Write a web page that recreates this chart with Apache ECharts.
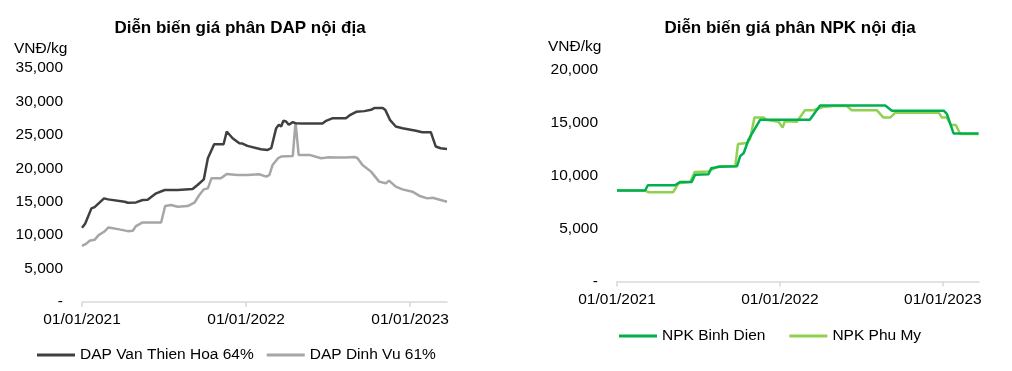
<!DOCTYPE html>
<html>
<head>
<meta charset="utf-8">
<script src="https://cdn.jsdelivr.net/npm/echarts@6/dist/echarts.min.js"></script>
<style>
html,body{margin:0;padding:0;background:#fff;}
#c{width:1012px;height:371px;}
</style>
</head>
<body>
<div id="c"></div>
<script>
// ---- DATA ----
const xTickLabels = ['01/01/2021', '01/01/2022', '01/01/2023'];
const xTickDates = ['2021-01-01', '2022-01-01', '2023-01-01'];

const vthDates = ['2021-01-01','2021-01-08','2021-01-22','2021-01-29','2021-02-19','2021-02-28','2021-04-06','2021-04-13','2021-05-01','2021-05-16','2021-05-27','2021-06-15','2021-07-04','2021-08-02','2021-09-04','2021-09-15','2021-09-29','2021-10-08','2021-10-22','2021-11-12','2021-11-19','2021-12-02','2021-12-17','2021-12-24','2022-01-04','2022-02-03','2022-02-18','2022-02-26','2022-03-09','2022-03-15','2022-03-20','2022-03-25','2022-03-31','2022-04-06','2022-04-15','2022-04-21','2022-05-07','2022-06-20','2022-06-28','2022-07-13','2022-08-11','2022-08-19','2022-09-03','2022-09-21','2022-10-06','2022-10-13','2022-11-01','2022-11-07','2022-11-17','2022-11-30','2022-12-15','2023-01-14','2023-01-28','2023-02-16','2023-02-27','2023-03-10','2023-03-24'];
const vthValues = [11100,11700,14000,14200,15500,15350,15000,14850,14900,15250,15300,16250,16750,16750,16900,17500,18350,21500,23600,23600,25500,24500,23750,23700,23350,22850,22750,23000,26000,26500,26250,27100,27000,26500,26900,26750,26700,26700,27100,27500,27500,27900,28450,28550,28750,29000,29000,28700,27250,26250,26000,25600,25400,25400,23250,23000,22900];

const dvDates = ['2021-01-01','2021-01-10','2021-01-18','2021-01-29','2021-02-07','2021-02-19','2021-03-01','2021-03-22','2021-04-13','2021-04-24','2021-05-01','2021-05-16','2021-06-26','2021-07-05','2021-07-18','2021-08-02','2021-08-24','2021-09-08','2021-09-19','2021-09-29','2021-10-08','2021-10-16','2021-11-06','2021-11-19','2021-12-13','2022-01-04','2022-01-30','2022-02-15','2022-02-22','2022-03-01','2022-03-13','2022-03-20','2022-04-15','2022-04-21','2022-04-28','2022-05-22','2022-06-17','2022-07-05','2022-07-20','2022-08-11','2022-08-30','2022-09-06','2022-09-17','2022-10-06','2022-10-24','2022-11-08','2022-11-15','2022-11-30','2022-12-15','2023-01-06','2023-01-21','2023-02-08','2023-02-20','2023-03-10','2023-03-24'];
const dvValues = [8400,8700,9150,9300,10000,10500,11150,10900,10600,10650,11350,11900,11900,14350,14500,14250,14350,14850,16000,16850,17000,18500,18500,19150,19000,19000,19100,18750,19000,20500,21500,21750,21850,26900,22000,22000,21500,21650,21600,21600,21700,21500,20500,19500,18000,17750,18150,17250,16850,16500,15900,15500,15600,15250,15000];

const bdDates = ['2021-01-01','2021-03-05','2021-03-11','2021-05-11','2021-05-22','2021-06-17','2021-06-25','2021-07-25','2021-07-31','2021-08-19','2021-09-27','2021-10-04','2021-10-12','2021-10-23','2021-10-30','2021-11-18','2022-03-09','2022-04-01','2022-08-25','2022-09-09','2023-01-03','2023-01-10','2023-01-25','2023-03-22'];
const bdValues = [8600,8600,9100,9100,9400,9400,10100,10150,10700,10850,10900,11850,12150,13450,13950,15300,15300,16650,16650,16150,16150,15850,14000,14000];

const pmDates = ['2021-01-01','2021-03-05','2021-03-12','2021-05-07','2021-05-19','2021-06-14','2021-06-24','2021-07-25','2021-08-16','2021-09-23','2021-09-29','2021-10-19','2021-10-26','2021-11-05','2021-11-26','2021-12-01','2021-12-29','2022-01-07','2022-01-12','2022-02-08','2022-02-26','2022-03-17','2022-04-08','2022-05-01','2022-05-31','2022-06-11','2022-08-06','2022-08-21','2022-09-05','2022-09-16','2022-12-23','2022-12-30','2023-01-10','2023-01-19','2023-01-30','2023-02-09','2023-03-22'];
const pmValues = [8600,8600,8450,8450,9300,9400,10350,10400,10900,10900,13000,13100,13450,15500,15500,15300,15100,14550,15150,15100,16200,16200,16500,16600,16600,16200,16200,15500,15500,15950,15950,15500,15500,14800,14800,13950,13950];

const seriesNames = ['DAP Van Thien Hoa 64%', 'DAP Dinh Vu 61%', 'NPK Binh Dien', 'NPK Phu My'];
const titles = ['Diễn biến giá phân DAP nội địa', 'Diễn biến giá phân NPK nội địa'];
const unitLabel = 'VNĐ/kg';
const xEndDates = ['2023-03-24', '2023-03-23'];

// ---- helpers ----
const T0 = Date.UTC(2021, 0, 1);
function dayNum(s) { const p = s.split('-'); return (Date.UTC(+p[0], +p[1] - 1, +p[2]) - T0) / 86400000; }
function pairs(d, v) { return d.map((s, i) => [dayNum(s), v[i]]); }
const tickDays = xTickDates.map(dayNum);
function xLab(v) { const i = tickDays.indexOf(v); return i >= 0 ? xTickLabels[i] : ''; }
function yLab(v) { return v === 0 ? '-' : v.toLocaleString('en-US'); }

const FONT = 'Liberation Sans, Arial, sans-serif';
const txt = { color: '#000', fontFamily: FONT, fontSize: 15.5 };

function xAxis(gi, end) {
  return {
    type: 'value', gridIndex: gi, min: 0, max: dayNum(end),
    axisLine: { show: true, lineStyle: { color: '#d9d9d9', width: 1.5 } },
    axisTick: { show: true, customValues: tickDays, length: 5, lineStyle: { color: '#d9d9d9', width: 1.5 } },
    axisLabel: { customValues: tickDays, formatter: xLab, margin: 10, ...txt },
    splitLine: { show: false }
  };
}
function yAxis(gi, max) {
  return {
    type: 'value', gridIndex: gi, min: 0, max: max, interval: 5000,
    axisLine: { show: false }, axisTick: { show: false }, splitLine: { show: false },
    axisLabel: { formatter: yLab, margin: 19, ...txt }
  };
}
function line(name, data, color, xi) {
  return {
    name, type: 'line', xAxisIndex: xi, yAxisIndex: xi, data, symbol: 'none',
    lineStyle: { color, width: 2.5 }, itemStyle: { color }, animation: false
  };
}

const titleStyle = { fontFamily: FONT, fontSize: 17, fontWeight: 'bold', color: '#000' };
const chart = echarts.init(document.getElementById('c'), null, { renderer: 'canvas' });
chart.setOption({
  animation: false,
  backgroundColor: '#fff',
  title: [
    { text: titles[0], left: 235, top: 15, textAlign: 'center', textStyle: titleStyle },
    { text: titles[1], left: 785, top: 15, textAlign: 'center', textStyle: titleStyle }
  ],
  graphic: [
    { type: 'text', left: 14, top: 41, style: { text: unitLabel, fill: '#000', font: '15.5px ' + FONT } },
    { type: 'text', left: 548, top: 39, style: { text: unitLabel, fill: '#000', font: '15.5px ' + FONT } }
  ],
  legend: [
    { data: [seriesNames[0], seriesNames[1]], left: 37, top: 347, padding: 0, itemWidth: 38, itemHeight: 3, itemGap: 13, icon: 'rect', textStyle: txt },
    { data: [seriesNames[2], seriesNames[3]], left: 619, top: 328, padding: 0, itemWidth: 38, itemHeight: 3, itemGap: 24, icon: 'rect', textStyle: txt }
  ],
  grid: [
    { left: 82, right: 565, top: 68, bottom: 69 },
    { left: 617, right: 33, top: 70, bottom: 89.5 }
  ],
  xAxis: [xAxis(0, xEndDates[0]), xAxis(1, xEndDates[1])],
  yAxis: [yAxis(0, 35000), yAxis(1, 20000)],
  series: [
    line(seriesNames[1], pairs(dvDates, dvValues), '#a6a6a6', 0),
    line(seriesNames[0], pairs(vthDates, vthValues), '#404040', 0),
    line(seriesNames[3], pairs(pmDates, pmValues), '#92d050', 1),
    line(seriesNames[2], pairs(bdDates, bdValues), '#00b050', 1)
  ]
});
</script>
</body>
</html>
